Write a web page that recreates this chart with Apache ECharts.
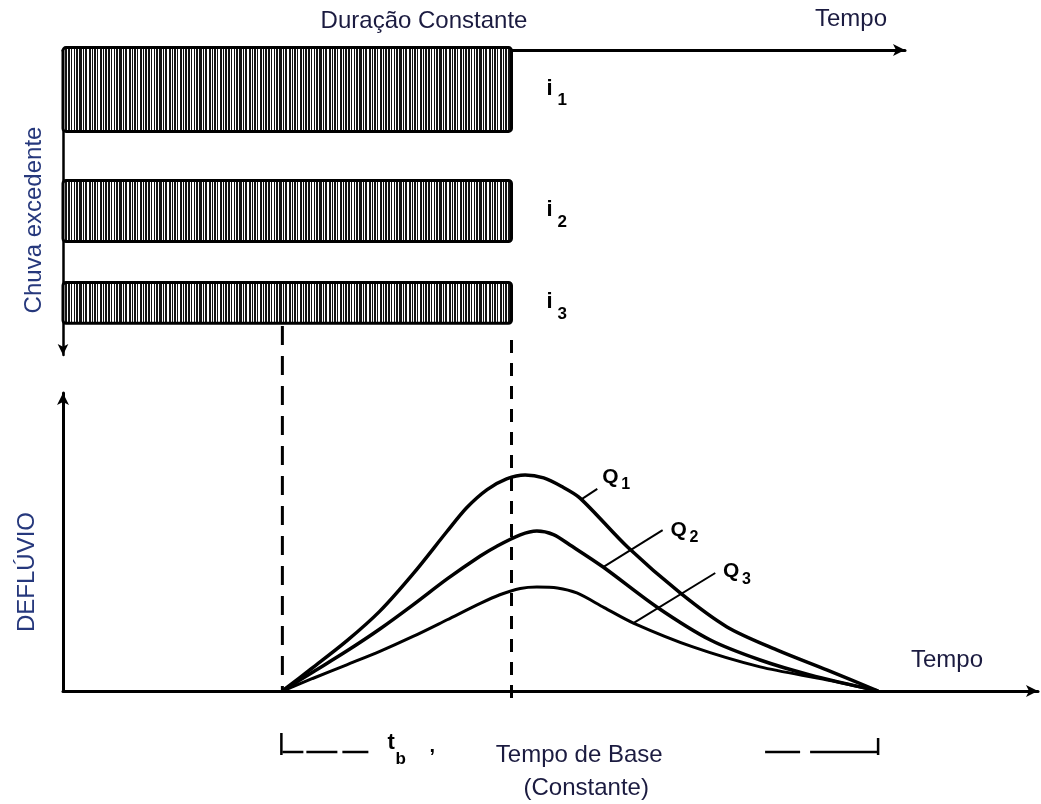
<!DOCTYPE html>
<html>
<head>
<meta charset="utf-8">
<title>Hidrograma - duração constante</title>
<script src="https://cdn.jsdelivr.net/npm/echarts@6.0.0/dist/echarts.min.js"></script>
<style>
html,body{margin:0;padding:0;background:#ffffff;}
#chart{width:1041px;height:804px;}
</style>
</head>
<body>
<div id="chart"></div>
<script>
// ---------------- data ----------------
// excess rainfall blocks (same duration, different intensities)
const rainNames = ['1', '2', '3'];
const rainStart = [0, 0, 0];
const rainEnd = [46.0, 46.0, 46.0];
const rainOffset = [-0.8, 42.8, 76.2];
const rainIntensity = [27.5, 20.0, 13.4];

// hydrographs
const q1Time = [22.5, 25.6, 29.1, 32.5, 35.9, 39.4, 41.4, 43.5, 45.5, 47.4, 49.3, 51.1, 53.0, 57.9, 63.3, 68.1, 73.2, 78.4, 83.6];
const q1Flow = [0, 7.8, 16.8, 26.8, 39.3, 53.6, 61.5, 67.6, 71.2, 72.5, 71.5, 68.7, 64.8, 48.3, 32.9, 21.5, 13.8, 7.0, 0];
const q2Time = [22.5, 25.6, 29.1, 32.5, 35.9, 39.4, 42.8, 44.5, 46.9, 48.6, 50.3, 52.0, 55.4, 60.9, 66.4, 71.5, 76.6, 83.6];
const q2Flow = [0, 6.3, 13.4, 20.8, 28.9, 37.6, 45.3, 48.6, 52.4, 53.7, 52.5, 49.0, 41.6, 28.2, 17.1, 10.4, 5.4, 0];
const q3Time = [22.5, 25.6, 29.1, 32.5, 35.9, 39.4, 42.8, 44.8, 46.9, 48.6, 50.7, 52.7, 55.5, 58.5, 64.6, 71.5, 78.4, 83.6];
const q3Flow = [0, 4.2, 8.8, 13.3, 18.3, 23.9, 29.4, 32.3, 34.4, 34.9, 34.6, 32.9, 28.0, 22.8, 14.8, 8.1, 3.7, 0];

// base time and guides
const baseStart = 22.5;
const baseEnd = 83.6;
const guideTimes = [22.5, 46.0];

// curve labels (leader line from curve to label)
const curveNames = ['1', '2', '3'];
const leaderFromT = [53.2, 55.4, 58.5];
const leaderFromQ = [64.4, 41.6, 22.8];
const leaderToT = [54.8, 61.5, 66.9];
const leaderToQ = [67.8, 54.0, 39.6];
const labelT = [55.3, 62.3, 67.7];
const labelQ = [71.8, 54.0, 40.1];

// texts
const txtTop = 'Duração Constante';
const txtTime = 'Tempo';
const txtRain = 'Chuva excedente';
const txtFlow = 'DEFLÚVIO';
const txtBase1 = 'Tempo de Base';
const txtBase2 = '(Constante)';

// ---------------- styles ----------------
const INK = '#000000';
const TXT = '#1b1b40';
const TXT_ROT = '#26387c';
const FONT = '"Liberation Sans", Arial, sans-serif';

function makeHatch() {
  const pat = '1101011001101011010011010110110100101101';
  const c = document.createElement('canvas');
  c.width = pat.length; c.height = 6;
  const ctx = c.getContext('2d');
  ctx.fillStyle = '#ffffff'; ctx.fillRect(0, 0, c.width, c.height);
  ctx.fillStyle = '#141414';
  for (let i = 0; i < pat.length; i++) if (pat[i] === '1') ctx.fillRect(i, 0, 1, c.height);
  return c;
}
const hatch = makeHatch();

const chart = echarts.init(document.getElementById('chart'), null, {renderer: 'canvas'});

function hidden() { return {show: false}; }

const option = {
  animation: false,
  backgroundColor: '#ffffff',
  grid: [
    {left: 63, top: 50, width: 842, height: 305, containLabel: false, outerBoundsMode: 'none'},
    {left: 63, top: 393, width: 975, height: 298, containLabel: false, outerBoundsMode: 'none'}
  ],
  xAxis: [
    {gridIndex: 0, type: 'value', min: 0, max: 86.36, position: 'top',
     axisLine: {show: true, onZero: false, symbol: ['none', 'arrow'], symbolSize: [9, 12],
                lineStyle: {color: INK, width: 3}},
     axisTick: hidden(), axisLabel: hidden(), splitLine: hidden()},
    {gridIndex: 1, type: 'value', min: 0, max: 100,
     axisLine: {show: true, onZero: false, symbol: ['none', 'arrow'], symbolSize: [9, 12],
                lineStyle: {color: INK, width: 3}},
     axisTick: hidden(), axisLabel: hidden(), splitLine: hidden()}
  ],
  yAxis: [
    {gridIndex: 0, type: 'value', min: 0, max: 100, inverse: true,
     axisLine: {show: true, onZero: false, symbol: ['arrow', 'none'], symbolSize: [8, 11],
                lineStyle: {color: INK, width: 2.5}},
     axisTick: hidden(), axisLabel: hidden(), splitLine: hidden()},
    {gridIndex: 1, type: 'value', min: 0, max: 100,
     axisLine: {show: true, onZero: false, symbol: ['none', 'arrow'], symbolSize: [9, 12],
                lineStyle: {color: INK, width: 3}},
     axisTick: hidden(), axisLabel: hidden(), splitLine: hidden()}
  ],
  graphic: [
    {type: 'text', x: 424, y: 21, style: {text: txtTop, font: '24px ' + FONT, fill: TXT, textAlign: 'center', textVerticalAlign: 'middle'}},
    {type: 'text', x: 851, y: 19, style: {text: txtTime, font: '24px ' + FONT, fill: TXT, textAlign: 'center', textVerticalAlign: 'middle'}},
    {type: 'text', x: 947, y: 660, style: {text: txtTime, font: '24px ' + FONT, fill: TXT, textAlign: 'center', textVerticalAlign: 'middle'}},
    {type: 'text', x: 34, y: 220, rotation: Math.PI / 2, style: {text: txtRain, font: '24px ' + FONT, fill: TXT_ROT, textAlign: 'center', textVerticalAlign: 'middle'}},
    {type: 'text', x: 27, y: 572, rotation: Math.PI / 2, style: {text: txtFlow, font: '24px ' + FONT, fill: TXT_ROT, textAlign: 'center', textVerticalAlign: 'middle'}}
  ],
  series: [
    // rainfall blocks
    {
      type: 'custom', xAxisIndex: 0, yAxisIndex: 0, silent: true, z: 3,
      data: rainNames.map((n, i) => [rainStart[i], rainEnd[i], rainOffset[i], rainIntensity[i], i]),
      renderItem: function (params, api) {
        const a = api.coord([api.value(0), api.value(2)]);
        const b = api.coord([api.value(1), api.value(2) + api.value(3)]);
        const y0 = Math.min(a[1], b[1]), y1 = Math.max(a[1], b[1]);
        const mid = (y0 + y1) / 2;
        const idx = api.value(4);
        return {type: 'group', children: [
          {type: 'rect', shape: {x: a[0], y: y0, width: b[0] - a[0], height: y1 - y0, r: 3},
           style: {fill: {image: hatch, repeat: 'repeat'}, stroke: INK, lineWidth: 3}},
          {type: 'text', x: b[0] + 35, y: mid - 1,
           style: {text: 'i', font: 'bold 22px ' + FONT, fill: INK, textAlign: 'left', textVerticalAlign: 'middle'}},
          {type: 'text', x: b[0] + 46, y: mid + 11,
           style: {text: rainNames[idx], font: 'bold 17px ' + FONT, fill: INK, textAlign: 'left', textVerticalAlign: 'middle'}}
        ]};
      }
    },
    // vertical dashed guides
    {
      type: 'custom', xAxisIndex: 1, yAxisIndex: 1, silent: true, z: 2,
      data: guideTimes.map((t, i) => [t, i]),
      renderItem: function (params, api) {
        const i = api.value(1);
        const p = api.coord([api.value(0), 0]);
        const above = [365, 351][i], below = [0, 11][i];
        const dash = [[19, 11], [13, 10]][i];
        return {type: 'line', shape: {x1: p[0], y1: p[1] - above, x2: p[0], y2: p[1] + below},
                style: {stroke: INK, lineWidth: 3, lineDash: dash}};
      }
    },
    // hydrographs
    {type: 'line', name: 'Q1', xAxisIndex: 1, yAxisIndex: 1, data: q1Time.map((t, i) => [t, q1Flow[i]]),
     smooth: 0.3, symbol: 'none', silent: true, z: 4, lineStyle: {color: INK, width: 3.5}},
    {type: 'line', name: 'Q2', xAxisIndex: 1, yAxisIndex: 1, data: q2Time.map((t, i) => [t, q2Flow[i]]),
     smooth: 0.3, symbol: 'none', silent: true, z: 4, lineStyle: {color: INK, width: 3.5}},
    {type: 'line', name: 'Q3', xAxisIndex: 1, yAxisIndex: 1, data: q3Time.map((t, i) => [t, q3Flow[i]]),
     smooth: 0.3, symbol: 'none', silent: true, z: 4, lineStyle: {color: INK, width: 3}},
    // curve labels
    {
      type: 'custom', xAxisIndex: 1, yAxisIndex: 1, silent: true, z: 5,
      data: curveNames.map((n, i) => [leaderFromT[i], leaderFromQ[i], leaderToT[i], leaderToQ[i], labelT[i], labelQ[i], i]),
      renderItem: function (params, api) {
        const a = api.coord([api.value(0), api.value(1)]);
        const b = api.coord([api.value(2), api.value(3)]);
        const c = api.coord([api.value(4), api.value(5)]);
        const idx = api.value(6);
        return {type: 'group', children: [
          {type: 'line', shape: {x1: a[0], y1: a[1], x2: b[0], y2: b[1]}, style: {stroke: INK, lineWidth: 2}},
          {type: 'text', x: c[0], y: c[1],
           style: {text: 'Q', font: 'bold 21px ' + FONT, fill: INK, textAlign: 'left', textVerticalAlign: 'middle'}},
          {type: 'text', x: c[0] + 19, y: c[1] + 8,
           style: {text: curveNames[idx], font: 'bold 16px ' + FONT, fill: INK, textAlign: 'left', textVerticalAlign: 'middle'}}
        ]};
      }
    },
    // base time bracket
    {
      type: 'custom', xAxisIndex: 1, yAxisIndex: 1, silent: true, z: 5,
      data: [[baseStart, baseEnd]],
      renderItem: function (params, api) {
        const l = api.coord([api.value(0), 0]);
        const r = api.coord([api.value(1), 0]);
        const y = l[1] + 61;
        const mid = (l[0] + r[0]) / 2;
        return {type: 'group', children: [
          {type: 'line', shape: {x1: l[0] - 1, y1: y - 19, x2: l[0] - 1, y2: y + 3}, style: {stroke: INK, lineWidth: 2.5}},
          {type: 'line', shape: {x1: l[0], y1: y, x2: l[0] + 86, y2: y}, style: {stroke: INK, lineWidth: 2.5, lineDash: [21, 3, 31, 5, 30, 10]}},
          {type: 'text', x: l[0] + 105, y: y - 9,
           style: {text: 't', font: 'bold 22px ' + FONT, fill: INK, textAlign: 'left', textVerticalAlign: 'middle'}},
          {type: 'text', x: l[0] + 113, y: y + 7,
           style: {text: 'b', font: 'bold 17px ' + FONT, fill: INK, textAlign: 'left', textVerticalAlign: 'middle'}},
          {type: 'text', x: l[0] + 147, y: y - 6,
           style: {text: ',', font: 'bold 20px ' + FONT, fill: INK, textAlign: 'left', textVerticalAlign: 'middle'}},
          {type: 'text', x: mid - 1, y: y + 3,
           style: {text: txtBase1, font: '24px ' + FONT, fill: TXT, textAlign: 'center', textVerticalAlign: 'middle'}},
          {type: 'text', x: mid + 6, y: y + 36,
           style: {text: txtBase2, font: '24px ' + FONT, fill: TXT, textAlign: 'center', textVerticalAlign: 'middle'}},
          {type: 'line', shape: {x1: r[0] - 113, y1: y, x2: r[0], y2: y}, style: {stroke: INK, lineWidth: 2.5, lineDash: [35, 10, 70, 0]}},
          {type: 'line', shape: {x1: r[0], y1: y - 14, x2: r[0], y2: y + 3}, style: {stroke: INK, lineWidth: 2.5}}
        ]};
      }
    }
  ]
};

chart.setOption(option);
</script>
</body>
</html>
